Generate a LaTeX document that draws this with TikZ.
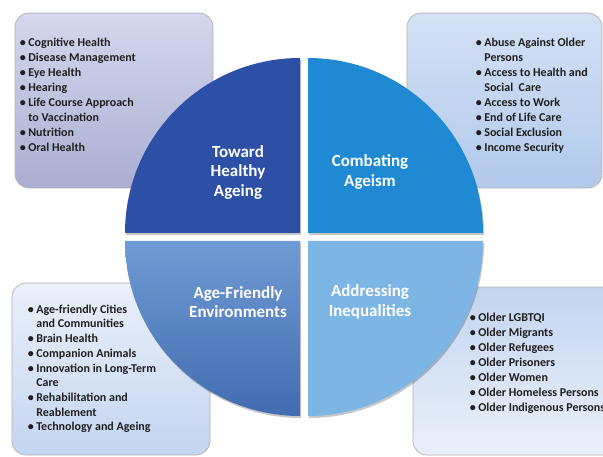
\documentclass[tikz,border=0pt]{standalone}
\usepackage{fontspec}
\setmainfont{Carlito}
\usetikzlibrary{positioning}
\definecolor{qhealth} {RGB}{46,79,166}
\definecolor{qageism} {RGB}{31,137,211}
\definecolor{qenvtop} {RGB}{112,155,212}
\definecolor{qenvbot} {RGB}{66,108,176}
\definecolor{qineq}   {RGB}{125,181,229}
\definecolor{lavtop}  {RGB}{212,215,237}
\definecolor{lavbot}  {RGB}{170,175,211}
\definecolor{skytop}  {RGB}{212,225,245}
\definecolor{skybot}  {RGB}{178,201,236}
\definecolor{paletop} {RGB}{234,240,250}
\definecolor{palebot} {RGB}{196,213,240}
\newcommand{\lsitem}{\textbullet\hspace{2.5pt}}
\newcommand{\lsindent}{\hphantom{\lsitem}}

\begin{document}
\begin{tikzpicture}[x=1pt, y=1pt,
        topic/.style={rectangle, rounded corners=14pt, draw=black!30, line width=0.7pt,
                      inner sep=0pt},
        items/.style={anchor=north west, align=left, inner sep=0pt, text=black!88,
                      font=\fontsize{12}{15}\selectfont\bfseries},
        pillar/.style={align=center, text=white, inner sep=0pt,
                       font=\fontsize{17}{19.5}\selectfont\bfseries},
        drop/.style={fill=black, opacity=0.22}
      ]
        \useasboundingbox (0,0) rectangle (603,456);
        \clip (0,0) rectangle (603,456);

        % Topic boxes (behind the circle)
        \node[topic, top color=lavtop, bottom color=lavbot,
              minimum width=198, minimum height=175] (healthbox) at (114,355.5) {};
        \node[topic, top color=skytop, bottom color=skybot,
              minimum width=195, minimum height=175] (ageismbox) at (504.5,355.5) {};
        \node[topic, top color=paletop, bottom color=palebot,
              minimum width=198, minimum height=172] (envbox) at (111,87) {};
        \node[topic, top color=palebot, bottom color=paletop,
              minimum width=212, minimum height=168] (ineqbox) at (519,85) {};

        % Item lists
        \node[items] (healthlist) at ([xshift=5, yshift=-25] healthbox.north west)
          {\lsitem Cognitive Health\\
           \lsitem Disease Management\\
           \lsitem Eye Health\\
           \lsitem Hearing\\
           \lsitem Life Course Approach\\
           \lsindent to Vaccination\\
           \lsitem Nutrition\\
           \lsitem Oral Health};
        \node[items] (ageismlist) at ([xshift=69, yshift=-25] ageismbox.north west)
          {\lsitem Abuse Against Older\\
           \lsindent Persons\\
           \lsitem Access to Health and\\
           \lsindent Social\ \ Care\\
           \lsitem Access to Work\\
           \lsitem End of Life Care\\
           \lsitem Social Exclusion\\
           \lsitem Income Security};
        \node[items, font=\fontsize{12}{14.7}\selectfont\bfseries] (envlist)
          at ([xshift=16, yshift=-22] envbox.north west)
          {\lsitem Age-friendly Cities\\
           \lsindent and Communities\\
           \lsitem Brain Health\\
           \lsitem Companion Animals\\
           \lsitem Innovation in Long-Term\\
           \lsindent Care\\
           \lsitem Rehabilitation and\\
           \lsindent Reablement\\
           \lsitem Technology and Ageing};
        \node[items] (ineqlist) at ([xshift=57, yshift=-26] ineqbox.north west)
          {\lsitem Older LGBTQI\\
           \lsitem Older Migrants\\
           \lsitem Older Refugees\\
           \lsitem Older Prisoners\\
           \lsitem Older Women\\
           \lsitem Older Homeless Persons\\
           \lsitem Older Indigenous Persons};

        % Quarter shadows
        \fill[drop] (301,221) -- ++(-175,0) arc[start angle=180, end angle=90, radius=175] -- cycle;
        \fill[drop] (309,221) -- ++(0,175) arc[start angle=90, end angle=0, radius=175] -- cycle;
        \fill[drop] (301,213) -- ++(0,-175) arc[start angle=270, end angle=180, radius=175] -- cycle;
        \fill[drop] (309,213) -- ++(175,0) arc[start angle=0, end angle=-90, radius=175] -- cycle;

        % Quarters
        \fill[qhealth] (300,223) -- ++(-175,0) arc[start angle=180, end angle=90, radius=175] -- cycle;
        \fill[qageism] (308,223) -- ++(0,175) arc[start angle=90, end angle=0, radius=175] -- cycle;
        \shade[top color=qenvtop, bottom color=qenvbot]
          (300,215) -- ++(0,-175) arc[start angle=270, end angle=180, radius=175] -- cycle;
        \fill[qineq] (308,215) -- ++(175,0) arc[start angle=0, end angle=-90, radius=175] -- cycle;

        % Pillar labels
        \node[pillar] (healthy)  at (238,284) {Toward\\Healthy\\Ageing};
        \node[pillar] (ageism)   at (370,284) {Combating\\Ageism};
        \node[pillar] (environs) at (238,154) {Age-Friendly\\Environments};
        \node[pillar] (inequal)  at (370,154) {Addressing\\Inequalities};

      \end{tikzpicture}
\end{document}
